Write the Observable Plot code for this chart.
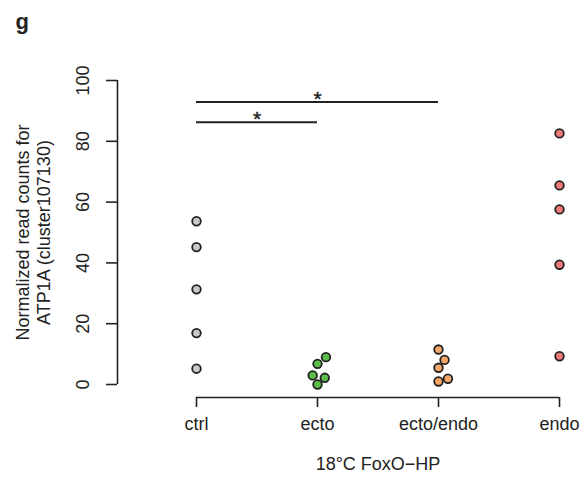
<!DOCTYPE html>
<html>
<head>
<meta charset="utf-8">
<script src="https://cdn.jsdelivr.net/npm/d3@7"></script>
<script src="https://cdn.jsdelivr.net/npm/@observablehq/plot@0.6"></script>
<style>
  html, body { margin: 0; padding: 0; background: #fff; }
  #chart svg { display: block; }
</style>
</head>
<body>
<div id="chart"></div>
<script>
// ---- data ----
const categories = ["ctrl", "ecto", "ecto/endo", "endo"];
const colors = ["#c8c8c8", "#5cbd4a", "#f6a768", "#f07a7a"];
const ctrlValues = [53.7, 45.2, 31.3, 16.9, 5.2];
const ectoValues = [9.0, 6.8, 3.0, 2.2, 0.0];
const ectoEndoValues = [11.5, 8.1, 5.5, 1.9, 1.0];
const endoValues = [82.6, 65.5, 57.6, 39.4, 9.3];
// horizontal jitter, in category units
const ctrlJitter = [0, 0, 0, 0, 0];
const ectoJitter = [0.07, 0, -0.04, 0.06, 0];
const ectoEndoJitter = [0, 0.05, 0, 0.078, 0];
const endoJitter = [0, 0, 0, 0, 0];
const yTicks = [0, 20, 40, 60, 80, 100];
const bracketFrom = [0, 0];
const bracketTo = [1, 2];
const bracketY = [86.3, 92.9];
const bracketLabel = ["*", "*"];
const yTitle = "Normalized read counts for\nATP1A (cluster107130)";
const xTitle = "18°C FoxO\u2212HP";
const panelLabel = "g";

// ---- build table ----
const groups = [ctrlValues, ectoValues, ectoEndoValues, endoValues];
const jitters = [ctrlJitter, ectoJitter, ectoEndoJitter, endoJitter];
const points = [];
groups.forEach((vals, gi) => vals.forEach((v, j) => points.push({g: gi, v, jx: gi + jitters[gi][j]})));
const brackets = bracketFrom.map((f, i) => ({x1: f, x2: bracketTo[i], y: bracketY[i], label: bracketLabel[i]}));

const ink = "#222";
const fontFamily = "Liberation Sans, Arial, Helvetica, sans-serif";

const chart = Plot.plot({
  width: 588,
  height: 487,
  marginLeft: 196,
  marginRight: 29,
  marginTop: 80,
  marginBottom: 103,
  style: {fontFamily, fontSize: "18px", color: ink, background: "#fff"},
  x: {domain: [0, 3], axis: null},
  y: {domain: [0, 100], axis: null},
  marks: [
    // y axis
    Plot.axisY({ticks: yTicks, tickSize: 11, tickFormat: () => "", dx: -79, stroke: ink, strokeWidth: 1.6}),
    Plot.ruleX([0], {y1: 0, y2: 100, dx: -79, stroke: ink, strokeWidth: 1.6}),
    Plot.text(yTicks, {x: 0, y: d => d, text: d => String(d), rotate: -90, dx: -113, fontSize: 18, fill: ink}),
    Plot.text([yTitle], {frameAnchor: "left", rotate: -90, dx: -164, textAnchor: "middle", lineAnchor: "middle", fontSize: 18, lineHeight: 1.17, fill: ink}),
    // x axis
    Plot.ruleY([0], {x1: 0, x2: 3, dy: 13, stroke: ink, strokeWidth: 1.6}),
    Plot.axisX({ticks: [0, 1, 2, 3], tickSize: 10, tickFormat: () => "", dy: 13, stroke: ink, strokeWidth: 1.6}),
    Plot.text(categories, {x: (d, i) => i, frameAnchor: "bottom", dy: 45, fontSize: 18, fill: ink}),
    Plot.text([xTitle], {frameAnchor: "bottom", dy: 85, fontSize: 18, fill: ink}),
    // significance brackets
    Plot.ruleY(brackets, {x1: "x1", x2: "x2", y: "y", stroke: ink, strokeWidth: 2}),
    Plot.text(brackets, {x: d => (d.x1 + d.x2) / 2, y: "y", text: "label", dy: -3, fontSize: 21, fill: ink, stroke: ink, strokeWidth: 0.4}),
    // points
    Plot.dot(points, {x: "jx", y: "v", r: 4.3, fill: d => colors[d.g], stroke: ink, strokeWidth: 1.8}),
    // panel label
    Plot.text([panelLabel], {frameAnchor: "top-left", dx: -181, dy: -59, fontSize: 22, fontWeight: "bold", fill: ink, textAnchor: "start", lineAnchor: "middle"})
  ]
});
document.getElementById("chart").appendChild(chart);
</script>
</body>
</html>
